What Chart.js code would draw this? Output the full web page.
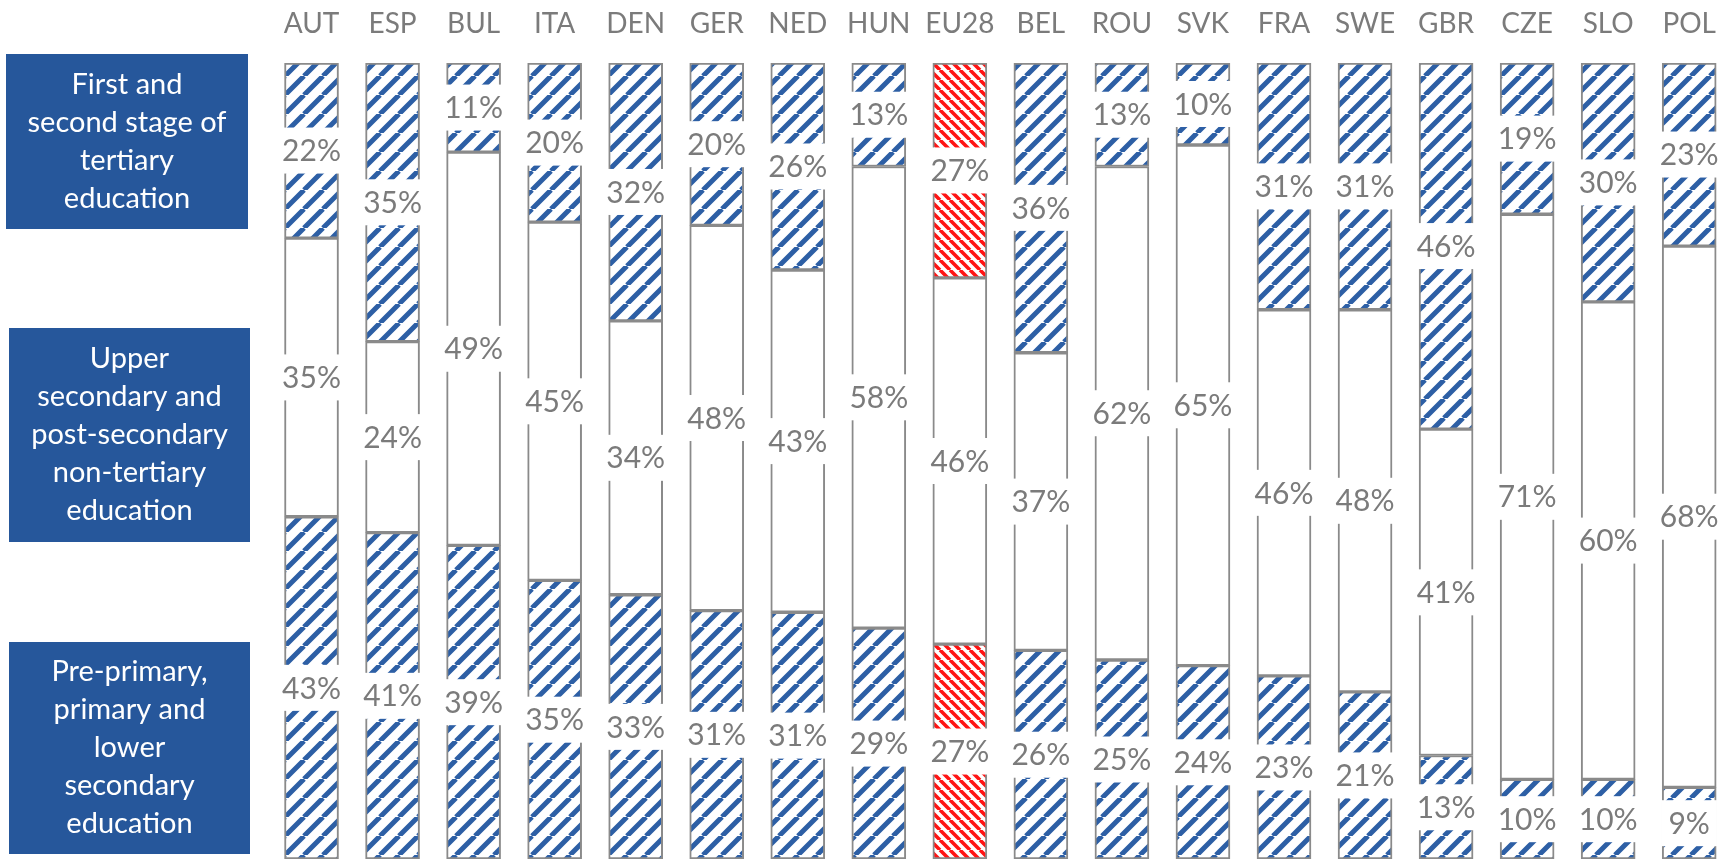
<!DOCTYPE html>
<html>
<head>
<meta charset="utf-8">
<script src="https://cdn.jsdelivr.net/npm/chart.js@4"></script>
<style>
  html, body { margin: 0; padding: 0; background: #fff; overflow: hidden; }
  #wrap { width: 1738px; height: 859px; }
</style>
</head>
<body>
<div id="wrap"><canvas id="eduChart"></canvas></div>
<script>
const countries = ['AUT', 'ESP', 'BUL', 'ITA', 'DEN', 'GER', 'NED', 'HUN', 'EU28',
                   'BEL', 'ROU', 'SVK', 'FRA', 'SWE', 'GBR', 'CZE', 'SLO', 'POL'];

// shares in %, each column adds up to 100
const lowerSecondary = [43, 41, 39.4, 35, 33.2, 31.2, 31, 29, 27, 26.2, 25, 24.3, 23, 21, 13, 10, 10, 9];
const upperSecondary = [35, 24, 49.4, 45, 34.4, 48.4, 43, 58, 46, 37.4, 62, 65.4, 46, 48, 41, 71, 60, 68];
const tertiary       = [22, 35, 11.2, 20, 32.4, 20.4, 26, 13, 27, 36.4, 13, 10.3, 31, 31, 46, 19, 30, 23];

// side captions, one per level (top to bottom)
const tertiaryCaption = ['First and', 'second stage of', 'tertiary', 'education'];
const upperCaption = ['Upper', 'secondary and', 'post-secondary', 'non-tertiary', 'education'];
const lowerCaption = ['Pre-primary,', 'primary and', 'lower', 'secondary', 'education'];

const highlight = 'EU28';
const FONT = "Lato, 'Open Sans', 'DejaVu Sans', sans-serif";
const GREY = '#7b7b7b';
const NAVY = '#26579b';

// diagonal hatch fills
function stripes(color, period, width, backslash) {
  const c = document.createElement('canvas');
  c.width = c.height = period;
  const g = c.getContext('2d');
  g.fillStyle = '#fff';
  g.fillRect(0, 0, period, period);
  g.strokeStyle = color;
  g.lineWidth = width;
  g.beginPath();
  for (let k = -1; k <= 1; k++) {
    if (backslash) {
      g.moveTo(k * period, 0);
      g.lineTo(k * period + period, period);
    } else {
      g.moveTo(k * period, period);
      g.lineTo(k * period + period, 0);
    }
  }
  g.stroke();
  return g.createPattern(c, 'repeat');
}

const blueHatch = stripes('#2d5fa5', 19, 5, false);
const redHatch = stripes('#ff1414', 10, 3.6, true);

const hatchFor = countries.map(c => c === highlight ? redHatch : blueHatch);

// white boxed value in the middle of every segment
const segmentLabels = {
  id: 'segmentLabels',
  afterDatasetsDraw(chart) {
    const ctx = chart.ctx;
    ctx.save();
    ctx.font = '30px ' + FONT;
    ctx.textAlign = 'center';
    ctx.textBaseline = 'middle';
    chart.data.datasets.forEach((ds, i) => {
      chart.getDatasetMeta(i).data.forEach((bar, j) => {
        const p = bar.getProps(['x', 'y', 'base'], true);
        const cy = (p.y + p.base) / 2;
        const txt = Math.round(ds.data[j]) + '%';
        const w = ctx.measureText(txt).width + 14;
        ctx.fillStyle = '#fff';
        ctx.fillRect(p.x - w / 2, cy - 23, w, 46);
        ctx.fillStyle = GREY;
        ctx.fillText(txt, p.x, cy + 1);
      });
    });
    ctx.restore();
  }
};

// navy caption boxes on the left
const sideBoxes = {
  id: 'sideBoxes',
  afterDraw(chart) {
    const ctx = chart.ctx;
    const boxes = [
      { x: 6, y: 54, w: 242, h: 175, lines: tertiaryCaption },
      { x: 9, y: 328, w: 241, h: 214, lines: upperCaption },
      { x: 9, y: 642, w: 241, h: 212, lines: lowerCaption }
    ];
    ctx.save();
    ctx.font = '29px ' + FONT;
    ctx.textAlign = 'center';
    ctx.textBaseline = 'middle';
    boxes.forEach(b => {
      ctx.fillStyle = NAVY;
      ctx.fillRect(b.x, b.y, b.w, b.h);
      ctx.fillStyle = '#fff';
      const lh = 38;
      const y0 = b.y + b.h / 2 - (b.lines.length - 1) * lh / 2;
      b.lines.forEach((t, k) => ctx.fillText(t, b.x + b.w / 2, y0 + k * lh));
    });
    ctx.restore();
  }
};

const barStyle = {
  borderColor: '#8a8a8a',
  borderWidth: 2,
  borderSkipped: false,
  barThickness: 54
};

new Chart(document.getElementById('eduChart'), {
  type: 'bar',
  data: {
    labels: countries,
    datasets: [
      Object.assign({ label: lowerCaption.join(' '), data: lowerSecondary, backgroundColor: hatchFor }, barStyle),
      Object.assign({ label: upperCaption.join(' '), data: upperSecondary, backgroundColor: '#fff' }, barStyle),
      Object.assign({ label: tertiaryCaption.join(' '), data: tertiary, backgroundColor: hatchFor }, barStyle)
    ]
  },
  options: {
    responsive: true,
    maintainAspectRatio: false,
    animation: false,
    layout: { padding: { left: 271, right: 0, top: 0, bottom: 0 } },
    plugins: {
      legend: { display: false },
      tooltip: { enabled: false }
    },
    scales: {
      x: {
        position: 'top',
        stacked: true,
        grid: { display: false, drawTicks: false },
        border: { display: false },
        ticks: { color: GREY, font: { family: FONT, size: 28 }, padding: 22, maxRotation: 0 },
        afterFit: s => { s.height = 63; }
      },
      y: {
        display: false,
        stacked: true,
        min: 0,
        max: 100
      }
    }
  },
  plugins: [segmentLabels, sideBoxes]
});
</script>
</body>
</html>
